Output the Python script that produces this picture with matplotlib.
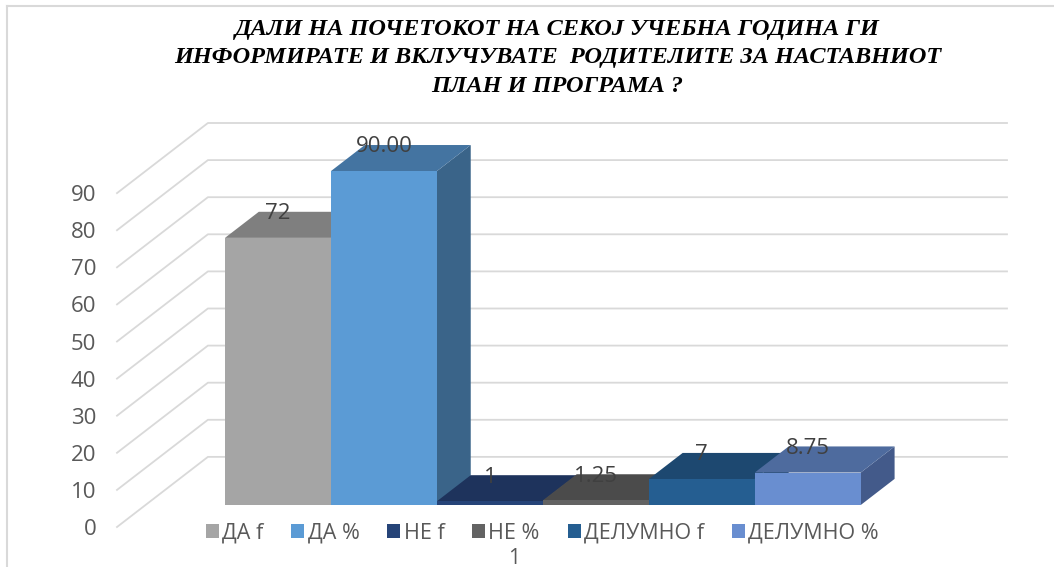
import matplotlib.pyplot as plt
from matplotlib.patches import Polygon
from matplotlib.lines import Line2D

plt.rcParams['font.family'] = ['Open Sans', 'DejaVu Sans']

title = 'ДАЛИ НА ПОЧЕТОКОТ НА СЕКОЈ УЧЕБНА ГОДИНА ГИ\nИНФОРМИРАТЕ И ВКЛУЧУВАТЕ  РОДИТЕЛИТЕ ЗА НАСТАВНИОТ\nПЛАН И ПРОГРАМА ?'
series = ['ДА f', 'ДА %', 'НЕ f', 'НЕ %', 'ДЕЛУМНО f', 'ДЕЛУМНО %']
values = [72, 90.00, 1, 1.25, 7, 8.75]
value_labels = ['72', '90.00', '1', '1.25', '7', '8.75']
category = '1'
yticks = list(range(0, 100, 10))

front_colors = ['#A5A5A5', '#5B9BD5', '#264478', '#636363', '#255E91', '#698ED0']
top_colors = ['#7F7F7F', '#4474A1', '#1E335C', '#4B4B4B', '#1D4870', '#4E6B9E']
side_colors = ['#6E6E6E', '#3A6489', '#1A2C50', '#404040', '#1A4166', '#435A8A']

# fake 3d: depth offset of the whole floor in data units
DX, DY = 0.858, 18.9
d0, d1 = 0.314, 0.686
w = d1 - d0
xmin, xmax = -1.019, 7.38
ymin, ymax = -d0 * DY, 90 + (1 - d0) * DY

fig = plt.figure(figsize=(10.54, 5.67), dpi=100)
ax = fig.add_axes([117 / 1054, 1 - 527 / 567, (1007 - 117) / 1054, (527 - 123) / 567])
ax.set_xlim(xmin, xmax)
ax.set_ylim(ymin, ymax)
for s in ax.spines.values():
    s.set_visible(False)

# gridlines: side wall + back wall
grid_c = '#D9D9D9'
for v in yticks:
    xa, ya = xmin, v - d0 * DY
    xb, yb = xmin + DX, v + (1 - d0) * DY
    ax.plot([xa, xb, xmax], [ya, yb, yb], color=grid_c, lw=1.3, zorder=1, clip_on=False)

# bars, left to right so later ones cover sides of earlier ones
handles = []
for i, v in enumerate(values):
    z = 2 + i
    top = Polygon([(i, v), (i + 1, v), (i + 1 + w * DX, v + w * DY), (i + w * DX, v + w * DY)],
                  closed=True, fc=top_colors[i], ec='none', zorder=z)
    side = Polygon([(i + 1, 0), (i + 1, v), (i + 1 + w * DX, v + w * DY), (i + 1 + w * DX, w * DY)],
                   closed=True, fc=side_colors[i], ec='none', zorder=z)
    ax.add_patch(side)
    ax.add_patch(top)
    b = ax.bar(i + 0.5, v, width=1, color=front_colors[i], zorder=z + 0.5, label=series[i])
    handles.append(b)
    ax.text(i + 0.5, v + 6.5, value_labels[i], ha='center', va='center', fontsize=16,
            color='#404040', zorder=20)

ax.set_yticks([v - d0 * DY for v in yticks])
ax.set_yticklabels([str(v) for v in yticks], fontsize=16, color='#595959')
ax.tick_params(axis='y', length=0, pad=15)
ax.set_xticks([len(values) / 2 - d0 * DX])
ax.set_xticklabels([category], fontsize=15, color='#595959')
ax.tick_params(axis='x', length=0, pad=15)

ax.legend(handles=handles, labels=series, loc='center', bbox_to_anchor=(0.478, -0.015),
          ncol=6, frameon=False, fontsize=15.5, handlelength=0.6, handleheight=0.6,
          handletextpad=0.15, columnspacing=1.3, labelcolor='#595959')

fig.text(0.529, 1 - 58 / 567, title, ha='center', va='center', fontsize=17.5,
         family='Liberation Serif', weight='bold', style='italic', linespacing=1.5)

# chart area border (top and left)
fig.add_artist(Line2D([7 / 1054, 1], [1 - 6 / 567, 1 - 6 / 567], color='#D9D9D9', lw=1.5,
                      transform=fig.transFigure))
fig.add_artist(Line2D([7 / 1054, 7 / 1054], [0, 1 - 6 / 567], color='#D9D9D9', lw=1.5,
                      transform=fig.transFigure))

fig.savefig('out.png', dpi=100)
